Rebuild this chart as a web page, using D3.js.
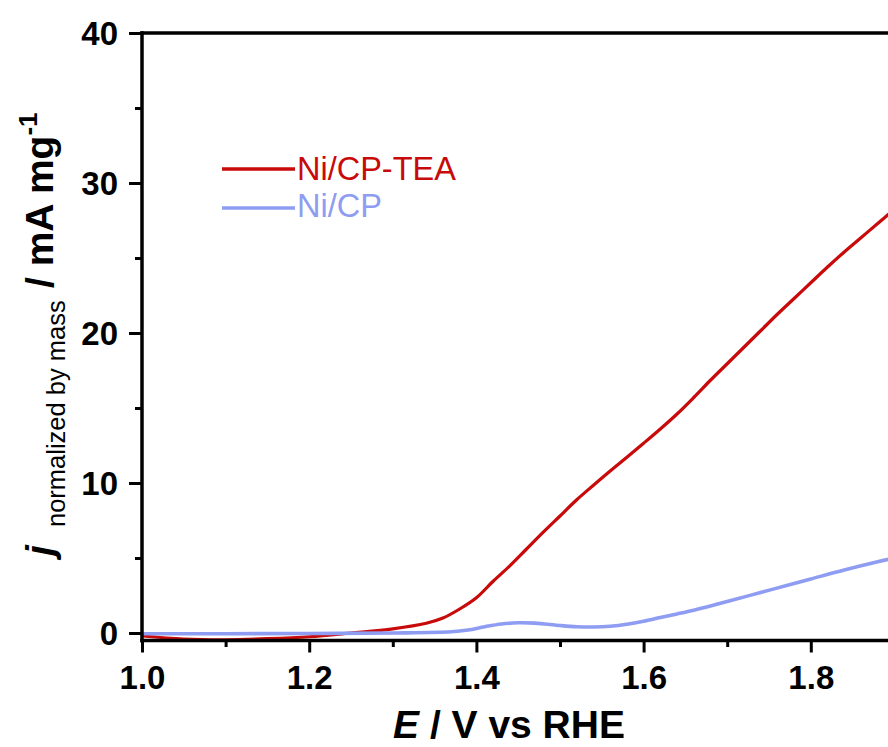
<!DOCTYPE html>
<html>
<head>
<meta charset="utf-8">
<script src="https://cdn.jsdelivr.net/npm/d3@7/dist/d3.min.js"></script>
<style>
  html, body { margin: 0; padding: 0; background: #fff; }
  svg { display: block; }
  text { font-family: "Liberation Sans", Arial, sans-serif; }
</style>
</head>
<body>
<svg id="chart" width="888" height="747"></svg>
<script>
// ---- data ----
const seriesNames = ["Ni/CP-TEA", "Ni/CP"];
const seriesColors = ["#C80A0A", "#8E9CF2"];

const tEA_E = [1.00, 1.05, 1.10, 1.15, 1.20, 1.25, 1.30, 1.34, 1.36, 1.38, 1.40, 1.42, 1.44, 1.46, 1.48, 1.50, 1.52, 1.54, 1.56, 1.58, 1.60, 1.62, 1.64, 1.66, 1.68, 1.70, 1.72, 1.74, 1.76, 1.78, 1.80, 1.82, 1.84, 1.86, 1.88, 1.90];
const tEA_j = [-0.20, -0.40, -0.45, -0.38, -0.25, 0.00, 0.28, 0.65, 1.00, 1.60, 2.35, 3.45, 4.48, 5.60, 6.72, 7.80, 8.88, 9.85, 10.80, 11.72, 12.65, 13.60, 14.60, 15.70, 16.85, 17.95, 19.05, 20.15, 21.25, 22.30, 23.35, 24.40, 25.40, 26.35, 27.30, 28.25];

const cp_E = [1.00, 1.10, 1.20, 1.30, 1.37, 1.39, 1.41, 1.43, 1.45, 1.47, 1.50, 1.52, 1.54, 1.56, 1.58, 1.60, 1.62, 1.64, 1.66, 1.68, 1.70, 1.74, 1.78, 1.80, 1.84, 1.88, 1.90];
const cp_j = [-0.05, -0.05, -0.03, 0.00, 0.08, 0.20, 0.42, 0.60, 0.68, 0.66, 0.50, 0.42, 0.40, 0.45, 0.58, 0.78, 1.03, 1.27, 1.52, 1.80, 2.10, 2.70, 3.30, 3.60, 4.20, 4.75, 5.00];

const xMajorTicks = [1.0, 1.2, 1.4, 1.6, 1.8];
const xMinorTicks = [1.1, 1.3, 1.5, 1.7, 1.9];
const yMajorTicks = [0, 10, 20, 30, 40];
const yMinorTicks = [5, 15, 25, 35];

// ---- layout ----
const svg = d3.select("#chart");
const pL = 142, pR = 978, pT = 33, pB = 640.5;

const x = d3.scaleLinear().domain([1.0, 2.0]).range([pL, pR]);
const y = d3.scaleLinear().domain([-0.5, 40]).range([pB, pT]);

svg.append("defs").append("clipPath").attr("id", "plotclip")
  .append("rect").attr("x", pL).attr("y", pT).attr("width", pR - pL).attr("height", pB - pT);

const line = d3.line().x(d => x(d[0])).y(d => y(d[1])).curve(d3.curveCatmullRom.alpha(0.5));

const series = [
  d3.zip(tEA_E, tEA_j),
  d3.zip(cp_E, cp_j)
];

const plot = svg.append("g").attr("clip-path", "url(#plotclip)");
plot.append("path").datum(series[0]).attr("d", line)
  .attr("fill", "none").attr("stroke", seriesColors[0]).attr("stroke-width", 3.2);
plot.append("path").datum(series[1]).attr("d", line)
  .attr("fill", "none").attr("stroke", seriesColors[1]).attr("stroke-width", 3.6);

// ---- axes ----
const axisW = 3.5;
const xAxis = d3.axisBottom(x).tickValues(xMajorTicks).tickSize(12).tickFormat(d3.format(".1f"));
const gx = svg.append("g").attr("transform", `translate(0,${pB})`).call(xAxis);
gx.select(".domain").remove();
gx.selectAll(".tick line").attr("stroke", "#000").attr("stroke-width", 3);
gx.selectAll(".tick text").attr("font-size", 33).attr("font-weight", "bold").attr("fill", "#000").attr("dy", 0).attr("y", 48.5);

const xMinor = d3.axisBottom(x).tickValues(xMinorTicks).tickSize(6.5).tickFormat("");
const gxm = svg.append("g").attr("transform", `translate(0,${pB})`).call(xMinor);
gxm.select(".domain").remove();
gxm.selectAll(".tick line").attr("stroke", "#000").attr("stroke-width", 3);

const yAxis = d3.axisLeft(y).tickValues(yMajorTicks).tickSize(13).tickFormat(d3.format("d"));
const gy = svg.append("g").attr("transform", `translate(${pL},0)`).call(yAxis);
gy.select(".domain").remove();
gy.selectAll(".tick line").attr("stroke", "#000").attr("stroke-width", 3);
gy.selectAll(".tick text").attr("font-size", 33).attr("font-weight", "bold").attr("fill", "#000")
  .attr("x", -24).attr("dy", "0.36em");

const yMinor = d3.axisLeft(y).tickValues(yMinorTicks).tickSize(7).tickFormat("");
const gym = svg.append("g").attr("transform", `translate(${pL},0)`).call(yMinor);
gym.select(".domain").remove();
gym.selectAll(".tick line").attr("stroke", "#000").attr("stroke-width", 3);

// frame lines
svg.append("line").attr("x1", pL).attr("x2", pL).attr("y1", pT - axisW / 2).attr("y2", pB + axisW / 2)
  .attr("stroke", "#000").attr("stroke-width", axisW);
svg.append("line").attr("x1", pL - axisW / 2).attr("x2", pR + axisW / 2).attr("y1", pB).attr("y2", pB)
  .attr("stroke", "#000").attr("stroke-width", axisW);
svg.append("line").attr("x1", pL - axisW / 2).attr("x2", pR + axisW / 2).attr("y1", pT).attr("y2", pT)
  .attr("stroke", "#000").attr("stroke-width", axisW);
svg.append("line").attr("x1", pR).attr("x2", pR).attr("y1", pT).attr("y2", pB)
  .attr("stroke", "#000").attr("stroke-width", axisW);

// ---- axis titles ----
const xt = svg.append("text").attr("x", 509).attr("y", 738).attr("text-anchor", "middle")
  .attr("font-size", 39).attr("font-weight", "bold").attr("fill", "#000");
xt.append("tspan").attr("font-style", "italic").text("E");
xt.append("tspan").text(" / V vs RHE");

svg.append("text").attr("transform", "translate(53,556) rotate(-90)")
  .attr("font-size", 39).attr("font-weight", "bold").attr("font-style", "italic").attr("fill", "#000").text("j");
svg.append("text").attr("transform", "translate(65,527) rotate(-90)")
  .attr("font-size", 25.5).attr("fill", "#000").text("normalized by mass");
const yt = svg.append("text").attr("transform", "translate(53,288) rotate(-90)")
  .attr("font-size", 39).attr("font-weight", "bold").attr("fill", "#000");
yt.append("tspan").text("/ mA mg");
yt.append("tspan").attr("font-size", 26).attr("dy", -16).text("-1");

// ---- legend ----
const legendY = [169, 208];
const legendTextY = [180, 217];
seriesNames.forEach((name, i) => {
  svg.append("line").attr("x1", 222).attr("x2", 295).attr("y1", legendY[i]).attr("y2", legendY[i])
    .attr("stroke", seriesColors[i]).attr("stroke-width", 3.6);
  svg.append("text").attr("x", 297).attr("y", legendTextY[i]).attr("font-size", 32.5)
    .attr("fill", seriesColors[i]).text(name);
});
</script>
</body>
</html>
